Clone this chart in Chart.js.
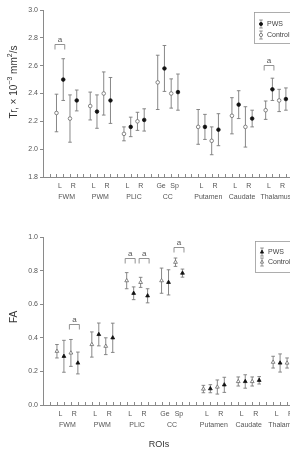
<!DOCTYPE html>
<html>
<head>
<meta charset="utf-8">
<script src="https://cdn.jsdelivr.net/npm/chart.js@4.4.1/dist/chart.umd.min.js"></script>
<style>
  html, body { margin: 0; padding: 0; background: #fff; width: 290px; height: 449px; overflow: hidden; }
  .panel { position: absolute; left: 0; }
</style>
</head>
<body>
<div class="panel" style="top:0px"><canvas id="trChart" width="302" height="205" style="width:302px;height:205px"></canvas></div>
<div class="panel" style="top:220px"><canvas id="faChart" width="311" height="229" style="width:311px;height:229px"></canvas></div>
<script>
// regions of interest, each with two sides
var groups = ['FWM', 'PWM', 'PLIC', 'CC', 'Putamen', 'Caudate', 'Thalamus'];
var sides = [['L', 'R'], ['L', 'R'], ['L', 'R'], ['Ge', 'Sp'], ['L', 'R'], ['L', 'R'], ['L', 'R']];
// first x slot of every group (control L, PWS L, control R, PWS R)
var groupStart = [2, 7, 12, 17, 23, 28, 33];

// Tr (x10^-3 mm2/s), values in order L, R for each group
var trControl   = [2.26, 2.22, 2.31, 2.40, 2.11, 2.20, 2.48, 2.40, 2.16, 2.06, 2.24, 2.16, 2.28, 2.35];
var trControlSd = [0.135, 0.17, 0.10, 0.155, 0.05, 0.065, 0.195, 0.105, 0.125, 0.10, 0.13, 0.145, 0.066, 0.08];
var trPws       = [2.50, 2.35, 2.27, 2.35, 2.16, 2.21, 2.58, 2.41, 2.16, 2.14, 2.32, 2.22, 2.43, 2.36];
var trPwsSd     = [0.15, 0.075, 0.12, 0.165, 0.07, 0.08, 0.165, 0.13, 0.09, 0.115, 0.10, 0.06, 0.08, 0.08];
var trTicks = [1.8, 2.0, 2.2, 2.4, 2.6, 2.8, 3.0];

// FA
var faControl   = [0.32, 0.31, 0.36, 0.35, 0.74, 0.73, 0.74, 0.85, 0.095, 0.107, 0.14, 0.14, 0.255, 0.25];
var faControlSd = [0.04, 0.08, 0.075, 0.05, 0.048, 0.03, 0.075, 0.025, 0.022, 0.042, 0.027, 0.027, 0.035, 0.03];
var faPws       = [0.29, 0.25, 0.42, 0.40, 0.665, 0.65, 0.73, 0.785, 0.097, 0.12, 0.14, 0.147, 0.25, 0.26];
var faPwsSd     = [0.095, 0.065, 0.068, 0.087, 0.038, 0.042, 0.075, 0.024, 0.024, 0.045, 0.04, 0.022, 0.054, 0.04];
var faTicks = [0.0, 0.2, 0.4, 0.6, 0.8, 1.0];

// significance marks "a": [from slot, to slot, value of bracket]
var trSig = [[2, 3, 2.756], [33, 34, 2.605]];
var faSig = [[4, 5, 0.482], [12, 13, 0.875], [14, 15, 0.875], [19, 20, 0.94]];

var FONT = '"Liberation Sans", Arial, sans-serif';
var AXIS = '#8a8a8a';
var BAR = '#7a7a7a';

function slotsFor(offset) {
  var xs = [];
  groupStart.forEach(function (s) { xs.push(s + offset, s + offset + 2); });
  return xs;
}

function points(xs, ys) {
  return xs.map(function (x, i) { return { x: x, y: ys[i] }; });
}

function marker(ctx, style, filled, x, y, r) {
  ctx.save();
  ctx.lineWidth = 0.8;
  ctx.strokeStyle = filled ? '#111' : '#6a6a6a';
  ctx.fillStyle = filled ? '#111' : '#fff';
  ctx.beginPath();
  if (style === 'triangle') {
    ctx.moveTo(x, y - r * 1.2);
    ctx.lineTo(x + r, y + r * 0.7);
    ctx.lineTo(x - r, y + r * 0.7);
    ctx.closePath();
  } else {
    ctx.arc(x, y, r, 0, Math.PI * 2);
  }
  ctx.fill();
  ctx.stroke();
  ctx.restore();
}

function errorBar(ctx, x, yTop, yBot) {
  ctx.beginPath();
  ctx.moveTo(x, yTop); ctx.lineTo(x, yBot);
  ctx.moveTo(x - 1.8, yTop); ctx.lineTo(x + 1.8, yTop);
  ctx.moveTo(x - 1.8, yBot); ctx.lineTo(x + 1.8, yBot);
  ctx.stroke();
}

// draws superscripted text pieces centred on 0,0
function richText(ctx, parts, size) {
  var w = 0;
  parts.forEach(function (p) {
    ctx.font = (p.sup ? size * 0.7 : size) + 'px ' + FONT;
    p.w = ctx.measureText(p.t).width;
    w += p.w;
  });
  var x = -w / 2;
  parts.forEach(function (p) {
    ctx.font = (p.sup ? size * 0.7 : size) + 'px ' + FONT;
    ctx.textAlign = 'left';
    ctx.textBaseline = 'middle';
    ctx.fillText(p.t, x, p.sup ? -size * 0.35 : 0);
    x += p.w;
  });
}

var decorPlugin = {
  id: 'decor',
  beforeDatasetsDraw: function (chart) {
    var ctx = chart.ctx, xs = chart.scales.x, ys = chart.scales.y;
    ctx.save();
    ctx.strokeStyle = BAR;
    ctx.lineWidth = 0.9;
    chart.data.datasets.forEach(function (ds) {
      ds.data.forEach(function (p, i) {
        var px = xs.getPixelForValue(p.x);
        if (px > chart.width + 5) return;
        errorBar(ctx, px, ys.getPixelForValue(p.y + ds.sd[i]), ys.getPixelForValue(p.y - ds.sd[i]));
      });
    });
    ctx.restore();
  },
  afterDraw: function (chart) {
    var ctx = chart.ctx, xs = chart.scales.x, ys = chart.scales.y, area = chart.chartArea;
    var o = chart.options.plugins.decor;
    ctx.save();
    // inward x ticks
    ctx.strokeStyle = AXIS;
    ctx.lineWidth = 1;
    ctx.beginPath();
    for (var i = 1; i < xs.max; i++) {
      var tx = Math.round(xs.getPixelForValue(i)) + 0.5;
      ctx.moveTo(tx, area.bottom);
      ctx.lineTo(tx, area.bottom - 3);
    }
    ctx.stroke();

    // category labels
    ctx.fillStyle = '#555';
    ctx.textAlign = 'center';
    ctx.textBaseline = 'middle';
    ctx.font = '7px ' + FONT;
    groups.forEach(function (g, k) {
      var s = groupStart[k];
      ctx.fillText(sides[k][0], xs.getPixelForValue(s + 0.5), area.bottom + 9);
      ctx.fillText(sides[k][1], xs.getPixelForValue(s + 2.5), area.bottom + 9);
      ctx.fillText(g, xs.getPixelForValue(s + 1.5), area.bottom + 20);
    });

    // significance brackets
    ctx.strokeStyle = '#777';
    ctx.lineWidth = 0.8;
    o.sig.forEach(function (b) {
      var x1 = xs.getPixelForValue(b[0]) - 1.5, x2 = xs.getPixelForValue(b[1]) + 1.5;
      var y = Math.round(ys.getPixelForValue(b[2])) + 0.5;
      ctx.beginPath();
      ctx.moveTo(x1, y + 5); ctx.lineTo(x1, y); ctx.lineTo(x2, y); ctx.lineTo(x2, y + 5);
      ctx.stroke();
      ctx.font = '8px ' + FONT;
      ctx.fillStyle = '#555';
      ctx.fillText('a', (x1 + x2) / 2, y - 5);
    });

    // legend
    var L = o.legend;
    ctx.strokeStyle = '#999';
    ctx.lineWidth = 0.8;
    ctx.strokeRect(L.x + 0.5, L.y + 0.5, 60, L.h);
    [['PWS', true], ['Control', false]].forEach(function (item, k) {
      var ly = L.y + L.rows[k];
      ctx.strokeStyle = BAR;
      errorBar(ctx, L.x + 7, ly - 4, ly + 4);
      marker(ctx, o.marker, item[1], L.x + 7, ly, 1.6);
      ctx.fillStyle = '#444';
      ctx.font = '7px ' + FONT;
      ctx.textAlign = 'left';
      ctx.fillText(item[0], L.x + 13, ly);
    });

    // axis titles
    ctx.fillStyle = '#333';
    ctx.save();
    ctx.translate(o.yTitle.x, o.yTitle.y);
    ctx.rotate(-Math.PI / 2);
    richText(ctx, o.yTitle.parts, 10);
    ctx.restore();
    if (o.xTitle) {
      ctx.font = '9px ' + FONT;
      ctx.textAlign = 'center';
      ctx.fillText(o.xTitle.text, o.xTitle.x, o.xTitle.y);
    }
    ctx.restore();
  }
};

function makeChart(id, cfg) {
  var style = cfg.marker;
  var r = 1.8;
  return new Chart(id, {
    type: 'scatter',
    data: {
      datasets: [
        {
          label: 'Control', data: points(slotsFor(0), cfg.control), sd: cfg.controlSd,
          pointStyle: style, pointRadius: style === 'triangle' ? 2.2 : r, pointHoverRadius: r,
          backgroundColor: '#fff', borderColor: '#6a6a6a', borderWidth: 0.8
        },
        {
          label: 'PWS', data: points(slotsFor(1), cfg.pws), sd: cfg.pwsSd,
          pointStyle: style, pointRadius: style === 'triangle' ? 2.2 : r, pointHoverRadius: r,
          backgroundColor: '#111', borderColor: '#111', borderWidth: 0.8
        }
      ]
    },
    options: {
      responsive: false,
      animation: false,
      events: [],
      layout: { padding: { top: cfg.padTop, left: 0, right: 0, bottom: 0 } },
      plugins: {
        legend: { display: false },
        tooltip: { enabled: false },
        decor: {
          sig: cfg.sig, legend: cfg.legend, marker: style,
          yTitle: cfg.yTitle, xTitle: cfg.xTitle
        }
      },
      scales: {
        x: {
          type: 'linear', min: 0, max: 38,
          ticks: { display: false },
          grid: { display: false },
          border: { display: true, color: AXIS, width: 1 },
          afterFit: function (s) { s.height = cfg.xHeight; }
        },
        y: {
          min: cfg.ticks[0], max: cfg.ticks[cfg.ticks.length - 1],
          afterBuildTicks: function (s) { s.ticks = cfg.ticks.map(function (v) { return { value: v }; }); },
          ticks: {
            font: { size: 7, family: FONT }, color: '#555', padding: 2,
            callback: function (v) { return Number(v).toFixed(1); }
          },
          grid: { drawOnChartArea: false, tickLength: 3, color: AXIS },
          border: { display: true, color: AXIS, width: 1 },
          afterFit: function (s) { s.width = 43; }
        }
      }
    },
    plugins: [decorPlugin]
  });
}

makeChart('trChart', {
  marker: 'circle', control: trControl, controlSd: trControlSd, pws: trPws, pwsSd: trPwsSd,
  ticks: trTicks, sig: trSig, padTop: 10, xHeight: 28,
  legend: { x: 254, y: 12, h: 31, rows: [12, 23] },
  yTitle: { x: 14, y: 82, parts: [{ t: 'Tr, \u00d7 10' }, { t: '\u22123', sup: true }, { t: ' mm' }, { t: '2', sup: true }, { t: '/s' }] }
});

makeChart('faChart', {
  marker: 'triangle', control: faControl, controlSd: faControlSd, pws: faPws, pwsSd: faPwsSd,
  ticks: faTicks, sig: faSig, padTop: 17, xHeight: 44,
  legend: { x: 255, y: 21, h: 31, rows: [11, 21] },
  yTitle: { x: 14, y: 97, parts: [{ t: 'FA' }] },
  xTitle: { text: 'ROIs', x: 159, y: 225 }
});
</script>
</body>
</html>
